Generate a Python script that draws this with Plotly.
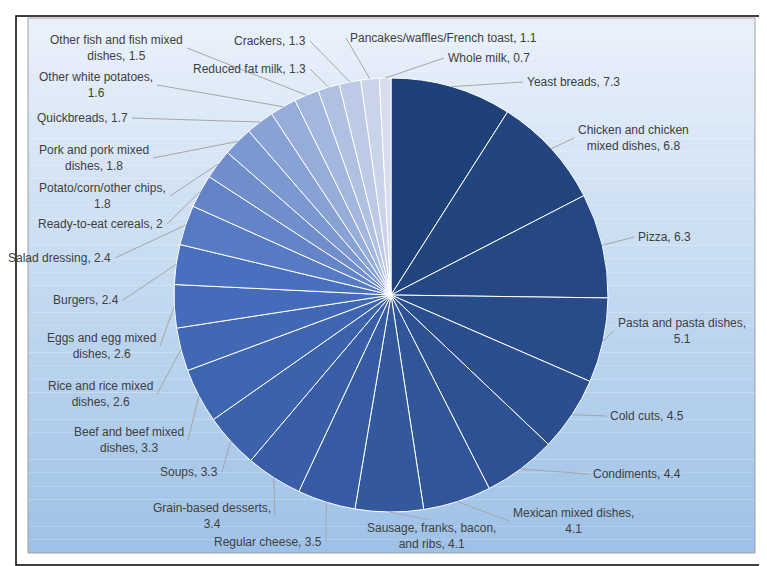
import math
import plotly.graph_objects as go

labels = ["Yeast breads, 7.3", "Chicken and chicken<br>mixed dishes, 6.8", "Pizza, 6.3", "Pasta and pasta dishes,<br>5.1",
          "Cold cuts, 4.5", "Condiments, 4.4", "Mexican mixed dishes,<br>4.1", "Sausage, franks, bacon,<br>and ribs, 4.1",
          "Regular cheese, 3.5", "Grain-based desserts,<br>3.4", "Soups, 3.3", "Beef and beef mixed<br>dishes, 3.3",
          "Rice and rice mixed<br>dishes, 2.6", "Eggs and egg mixed<br>dishes, 2.6", "Burgers, 2.4", "Salad dressing, 2.4",
          "Ready-to-eat cereals, 2", "Potato/corn/other chips,<br>1.8", "Pork and pork mixed<br>dishes, 1.8",
          "Quickbreads, 1.7", "Other white potatoes,<br>1.6", "Other fish and fish mixed<br>dishes, 1.5",
          "Reduced fat milk, 1.3", "Crackers, 1.3", "Pancakes/waffles/French toast, 1.1", "Whole milk, 0.7"]
values = [7.3, 6.8, 6.3, 5.1, 4.5, 4.4, 4.1, 4.1, 3.5, 3.4, 3.3, 3.3, 2.6, 2.6, 2.4, 2.4, 2, 1.8, 1.8, 1.7, 1.6, 1.5, 1.3, 1.3, 1.1, 0.7]
# label anchor positions (pixels) and side
label_pos = [(517, 74, "left"), (568, 130, "left"), (628, 229, "left"), (608, 323, "left"), (600, 408, "left"),
             (583, 466, "left"), (503, 513, "left"), (423, 528, "center"), (316, 534, "right"), (265, 508, "right"),
             (212, 464, "right"), (178, 432, "right"), (147, 386, "right"), (150, 338, "right"), (113, 292, "right"),
             (105, 250, "right"), (157, 216, "right"), (160, 188, "right"), (143, 150, "right"), (122, 110, "right"),
             (147, 77, "right"), (177, 40, "right"), (300, 61, "right"), (300, 33, "right"), (340, 30, "left"),
             (438, 50, "left")]

W, H = 767, 566
cx, cy, R = 383, 287, 217

def lerp(c1, c2, t):
    t = max(0, min(1, t))
    return "rgb(%d,%d,%d)" % tuple(round(a + (b - a) * t) for a, b in zip(c1, c2))
n = len(values)
dark, mid, light = (31, 65, 122), (70, 110, 190), (214, 222, 238)
colors = []
for i in range(n):
    t = i / (n - 1)
    colors.append(lerp(dark, mid, t / 0.55) if t < 0.55 else lerp(mid, light, (t - 0.55) / 0.45))

shapes = []
x0, x1, y0, y1 = 20/W, 747/W, 1-545/H, 1-10/H
steps = 40
for k in range(steps):
    t = k / (steps - 1)
    ya = y1 - (y1 - y0) * k / steps
    yb = y1 - (y1 - y0) * (k + 1) / steps
    shapes.append(dict(type="rect", xref="paper", yref="paper", x0=x0, x1=x1, y0=yb, y1=ya,
                       fillcolor=lerp((234, 241, 250), (158, 194, 231), t), line_width=0, layer="below"))
shapes.append(dict(type="rect", xref="paper", yref="paper", x0=x0, x1=x1, y0=y0, y1=y1,
                   line=dict(color="#A0A0A0", width=1), layer="below"))
shapes.append(dict(type="rect", xref="paper", yref="paper", x0=8/W, x1=759/W, y0=1-557/H, y1=1-8/H,
                   line=dict(color="black", width=1.5), layer="above"))

annotations = []
total = sum(values)
cum = 0
for v, lab, (lx, ly, side) in zip(values, labels, label_pos):
    mid_a = (cum + v / 2) / total * 2 * math.pi
    cum += v
    ex, ey = cx + R * math.sin(mid_a), cy - R * math.cos(mid_a)
    tx = lx - 2 if side == "left" else (lx + 2 if side == "right" else lx)
    ty = ly if side != "center" else ly - 16
    shapes.append(dict(type="line", xref="paper", yref="paper", x0=ex/W, y0=1-ey/H, x1=tx/W, y1=1-ty/H,
                       line=dict(color="#A6A6A6", width=1), layer="above"))
    annotations.append(dict(text=lab, x=lx/W, y=1-ly/H, xref="paper", yref="paper", showarrow=False,
                            xanchor=side, yanchor="middle", align="center",
                            font=dict(family="Liberation Sans, Arial", size=12, color="#404040")))

fig = go.Figure(go.Pie(labels=labels, values=values, textinfo="none", sort=False, direction="clockwise",
                       rotation=0, marker=dict(colors=colors, line=dict(color="white", width=1)),
                       showlegend=False, hoverinfo="none",
                       domain=dict(x=[(cx-R)/W, (cx+R)/W], y=[1-(cy+R)/H, 1-(cy-R)/H])))
fig.update_layout(width=W, height=H, margin=dict(l=0, r=0, t=0, b=0), paper_bgcolor="white",
                  shapes=shapes, annotations=annotations)
fig.write_html("out.html")
